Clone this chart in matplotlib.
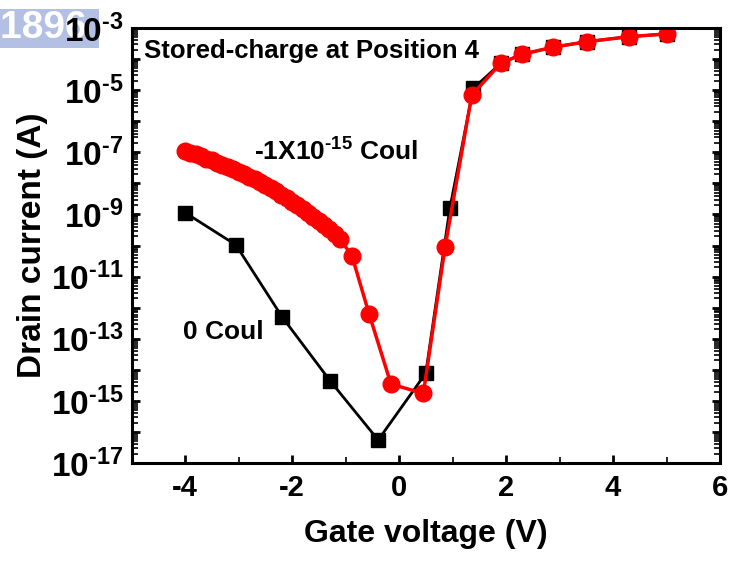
import numpy as np
import matplotlib
matplotlib.use('Agg')
import matplotlib.pyplot as plt
from matplotlib.ticker import FixedLocator, MultipleLocator, NullFormatter

plt.rcParams['font.family'] = ['Liberation Sans', 'DejaVu Sans']
plt.rcParams['font.weight'] = 'bold'
plt.rcParams['mathtext.fontset'] = 'custom'
plt.rcParams['mathtext.rm'] = 'Liberation Sans:bold'
plt.rcParams['mathtext.bf'] = 'Liberation Sans:bold'
plt.rcParams['axes.unicode_minus'] = False

# 0 Coul (black squares)
vg_zero = [-4.0, -3.05, -2.18, -1.29, -0.39, 0.50, 0.95, 1.39, 1.90, 2.29, 2.87, 3.51, 4.29, 5.00]
logid_zero = [-8.94, -9.98, -12.31, -14.35, -16.26, -14.11, -8.80, -4.94, -4.14, -3.85, -3.62, -3.44, -3.28, -3.19]

# -1X10^-15 Coul (red circles)
vg_neg = [-4.0, -3.9, -3.8, -3.7, -3.6, -3.5, -3.4, -3.3, -3.2, -3.1,
          -3.0, -2.9, -2.8, -2.7, -2.6, -2.5, -2.4, -2.3, -2.2, -2.1,
          -2.0, -1.9, -1.8, -1.7, -1.6, -1.5, -1.4, -1.3, -1.2, -1.1,
          -0.88, -0.56, -0.15, 0.455, 0.86, 1.36, 1.90, 2.29, 2.87, 3.51, 4.29, 5.00]
logid_neg = [-6.95, -7.01, -7.07, -7.13, -7.20, -7.26, -7.33, -7.40, -7.47, -7.54,
             -7.62, -7.69, -7.78, -7.86, -7.95, -8.04, -8.14, -8.25, -8.36, -8.47,
             -8.59, -8.70, -8.82, -8.94, -9.07, -9.20, -9.34, -9.48, -9.63, -9.80,
             -10.33, -12.20, -14.46, -14.76, -10.06, -5.16, -4.14, -3.85, -3.62, -3.44, -3.28, -3.19]

decades = list(range(-17, -2))

id_zero = 10.0 ** np.array(logid_zero)
id_neg = 10.0 ** np.array(logid_neg)

fig = plt.figure(figsize=(7.49, 5.65), dpi=100)
ax = fig.add_axes([0.1756, 0.1805, 0.7857, 0.7699])

ax.plot(vg_zero, id_zero, color='black', lw=2, marker='s', ms=10,
        markerfacecolor='black', markeredgecolor='black')
ax.plot(vg_neg, id_neg, color='red', lw=2.5, marker='o', ms=12,
        markerfacecolor='red', markeredgecolor='red')

ax.set_yscale('log')
ax.set_xlim(-5, 6)
ax.set_ylim(1e-17, 1e-3)

ax.xaxis.set_major_locator(MultipleLocator(2))
ax.xaxis.set_minor_locator(MultipleLocator(1))
ax.yaxis.set_major_locator(FixedLocator([10.0 ** e for e in decades]))
minor_pos = [m * 10.0 ** e for e in decades[:-1] for m in range(2, 10)]
ax.yaxis.set_minor_locator(FixedLocator(minor_pos))
ax.yaxis.set_minor_formatter(NullFormatter())
ylabels = []
for e in decades:
    if e % 2 != 0:
        ylabels.append(r'$\mathbf{10^{\text{-%d}}}$' % (-e))
    else:
        ylabels.append('')
ax.set_yticklabels(ylabels)

ax.tick_params(which='major', direction='in', length=6, width=2)
ax.tick_params(which='minor', direction='in', length=4, width=1.2)
ax.tick_params(axis='x', labelsize=21, pad=8)
ax.tick_params(axis='y', labelsize=24, pad=6)
ax.tick_params(axis='y', which='both', right=True)
for lab in ax.get_xticklabels():
    lab.set_fontweight('bold')
for s in ax.spines.values():
    s.set_linewidth(2.2)

ax.set_xlabel('Gate voltage (V)', fontsize=23, fontweight='bold', labelpad=12)
ax.set_ylabel('Drain current (A)', fontsize=24, fontweight='bold', labelpad=2)

ax.text(0.022, 0.975, 'Stored-charge at Position 4', transform=ax.transAxes,
        fontsize=18.5, fontweight='bold', va='top', ha='left')
ax.text(-2.71, 10 ** -6.95, r'-1X10$^{\mathbf{\text{-15}}}$ Coul', fontsize=19, fontweight='bold',
        va='center', ha='left')
ax.text(-4.04, 10 ** -12.78, '0 Coul', fontsize=19, fontweight='bold',
        va='center', ha='left')

fig.text(0.0, 0.95, '1896 ', color='white', fontsize=28, fontweight='bold',
         va='center', ha='left', zorder=-1,
         bbox=dict(facecolor='#b3c0e4', edgecolor='none', pad=1))

fig.savefig('out.png', dpi=100)
